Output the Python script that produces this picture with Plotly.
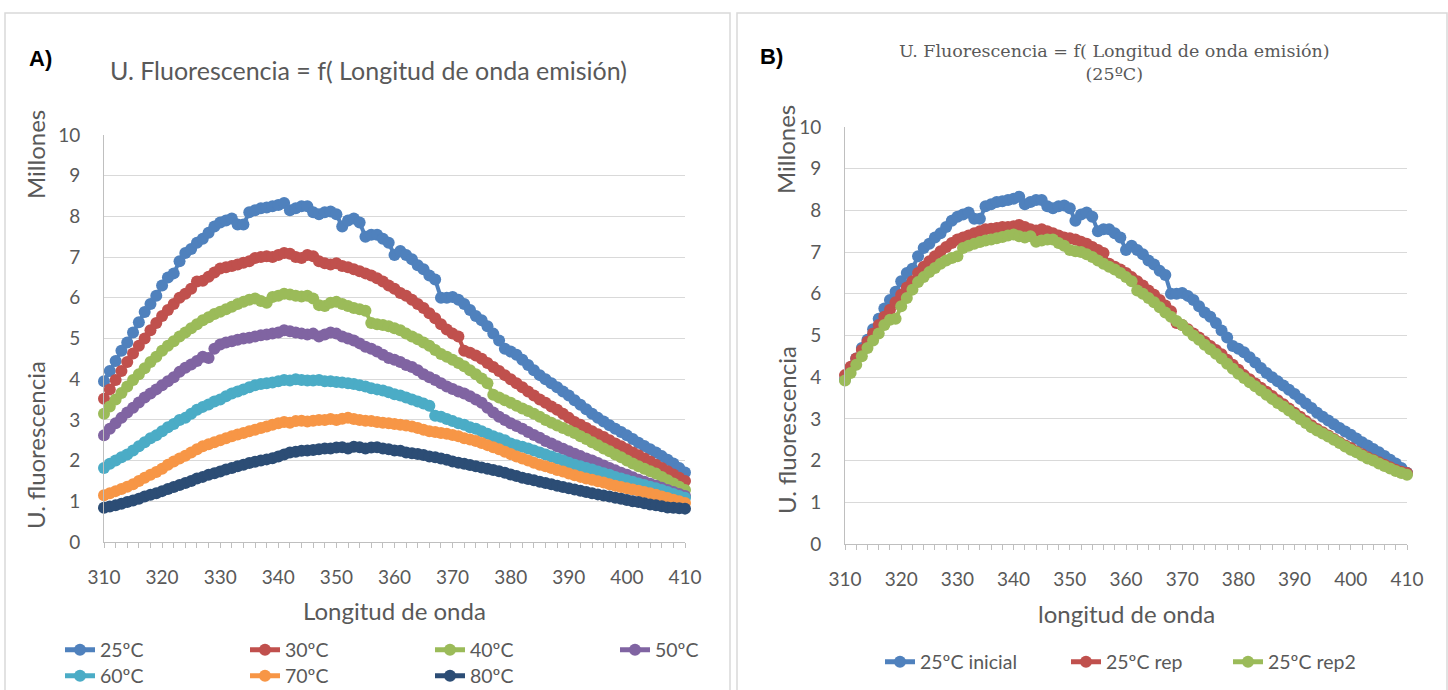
import plotly.graph_objects as go

W, H = 1448, 690

# ---------------- data ----------------
wavelength = list(range(310, 411))

a_25 = [3.95, 4.2, 4.45, 4.7, 4.9, 5.15, 5.4, 5.65, 5.85, 6.05, 6.3,
        6.5, 6.6, 6.9, 7.1, 7.2, 7.35, 7.45, 7.6, 7.75, 7.85,
        7.9, 7.95, 7.8, 7.8, 8.1, 8.15, 8.2, 8.22, 8.25, 8.28,
        8.33, 8.15, 8.2, 8.25, 8.25, 8.1, 8.05, 8.1, 8.12, 8.05,
        7.75, 7.9, 7.95, 7.85, 7.5, 7.55, 7.55, 7.45, 7.35, 7.05,
        7.15, 7.05, 6.95, 6.8, 6.7, 6.55, 6.45, 6.0, 6.0, 6.02,
        5.95, 5.85, 5.7, 5.55, 5.45, 5.3, 5.12, 4.95, 4.75, 4.68,
        4.6, 4.48, 4.35, 4.22, 4.1, 4.0, 3.9, 3.8, 3.7, 3.6,
        3.48, 3.37, 3.26, 3.15, 3.05, 2.96, 2.87, 2.78, 2.7, 2.62,
        2.53, 2.44, 2.36, 2.28, 2.2, 2.11, 2.02, 1.93, 1.82, 1.71]

a_30 = [3.52, 3.75, 3.98, 4.2, 4.42, 4.63, 4.82, 5.0, 5.2, 5.38, 5.55,
        5.7, 5.85, 6.0, 6.1, 6.22, 6.4, 6.42, 6.52, 6.62, 6.72,
        6.75, 6.78, 6.82, 6.86, 6.9, 6.98, 7.0, 7.02, 7.0, 7.05,
        7.1, 7.08, 7.0, 6.98, 7.05, 7.02, 6.9, 6.85, 6.82, 6.85,
        6.78, 6.75, 6.7, 6.65, 6.6, 6.55, 6.48, 6.4, 6.3, 6.22,
        6.12, 6.05, 5.95, 5.85, 5.75, 5.62, 5.5, 5.35, 5.22, 5.12,
        5.05, 4.7, 4.65, 4.58, 4.5, 4.4, 4.3, 4.2, 4.1, 4.0,
        3.9, 3.8, 3.7, 3.6, 3.5, 3.42, 3.33, 3.25, 3.15, 3.05,
        2.95, 2.88, 2.8, 2.72, 2.65, 2.58, 2.5, 2.42, 2.35, 2.28,
        2.2, 2.13, 2.05, 1.98, 1.9, 1.82, 1.74, 1.66, 1.58, 1.5]

a_40 = [3.15, 3.33, 3.5, 3.66, 3.82, 3.98, 4.12, 4.27, 4.42, 4.55, 4.7,
        4.82, 4.93, 5.05, 5.15, 5.25, 5.35, 5.45, 5.52, 5.6, 5.66,
        5.72, 5.78, 5.85, 5.9, 5.95, 5.98, 5.92, 5.88, 6.02, 6.05,
        6.1, 6.08, 6.05, 6.03, 6.05, 5.98, 5.82, 5.8, 5.88, 5.9,
        5.85, 5.8, 5.75, 5.72, 5.68, 5.38, 5.35, 5.33, 5.3, 5.25,
        5.2, 5.12, 5.05, 4.98, 4.9, 4.82, 4.72, 4.62, 4.55, 4.48,
        4.4, 4.32, 4.22, 4.12, 4.02, 3.9, 3.62, 3.55, 3.48, 3.42,
        3.35, 3.28, 3.22, 3.15, 3.08, 3.0, 2.93, 2.86, 2.8, 2.74,
        2.68, 2.6, 2.53, 2.45, 2.38, 2.3, 2.23, 2.15, 2.08, 2.0,
        1.93, 1.86, 1.8, 1.74, 1.68, 1.6, 1.52, 1.44, 1.36, 1.28]

a_50 = [2.62, 2.78, 2.92, 3.05, 3.18, 3.3, 3.43, 3.55, 3.65, 3.75, 3.85,
        3.95, 4.05, 4.18, 4.28, 4.36, 4.45, 4.55, 4.52, 4.75, 4.85,
        4.9, 4.93, 4.97, 5.0, 5.02, 5.05, 5.08, 5.1, 5.12, 5.15,
        5.2, 5.18, 5.15, 5.12, 5.1, 5.12, 5.05, 5.1, 5.15, 5.12,
        5.05, 5.0, 4.95, 4.88, 4.8, 4.75, 4.68, 4.6, 4.52, 4.48,
        4.42, 4.35, 4.3, 4.22, 4.12, 4.05, 3.98, 3.9, 3.82, 3.76,
        3.7, 3.65, 3.58, 3.5, 3.42, 3.3, 3.18, 3.08, 3.0, 2.92,
        2.85, 2.78, 2.7, 2.63, 2.56, 2.48, 2.42, 2.35, 2.29, 2.23,
        2.17, 2.11, 2.05, 2.0, 1.94, 1.88, 1.82, 1.76, 1.7, 1.65,
        1.59, 1.53, 1.48, 1.43, 1.38, 1.33, 1.28, 1.23, 1.18, 1.13]

a_60 = [1.82, 1.92, 2.0, 2.08, 2.15, 2.25, 2.35, 2.45, 2.55, 2.62, 2.72,
        2.82, 2.9, 3.0, 3.05, 3.15, 3.25, 3.32, 3.38, 3.45, 3.5,
        3.58, 3.65, 3.7, 3.75, 3.8, 3.85, 3.88, 3.9, 3.92, 3.95,
        3.98, 3.97, 4.0, 3.98, 3.97, 3.97, 3.98, 3.95, 3.95, 3.93,
        3.92, 3.9, 3.88, 3.85, 3.82, 3.78, 3.75, 3.72, 3.68, 3.63,
        3.6, 3.55, 3.5, 3.45, 3.4, 3.35, 3.1, 3.08, 3.02, 2.97,
        2.92, 2.88, 2.82, 2.78, 2.72, 2.66, 2.6, 2.55, 2.5, 2.42,
        2.38, 2.34, 2.3, 2.25, 2.2, 2.15, 2.1, 2.05, 2.0, 1.95,
        1.9, 1.86, 1.82, 1.78, 1.73, 1.69, 1.65, 1.6, 1.56, 1.52,
        1.48, 1.44, 1.4, 1.36, 1.32, 1.28, 1.23, 1.18, 1.13, 1.09]

a_70 = [1.15, 1.2, 1.25, 1.3, 1.36, 1.42, 1.5, 1.58, 1.65, 1.72, 1.8,
        1.9, 1.98, 2.05, 2.12, 2.2, 2.28, 2.35, 2.4, 2.45, 2.5,
        2.55, 2.6, 2.64, 2.68, 2.72, 2.76, 2.8, 2.84, 2.88, 2.92,
        2.95, 2.93, 2.97, 2.98, 2.96, 2.98, 3.0, 3.0, 3.02, 3.0,
        3.03, 3.05, 3.02, 3.0, 2.98, 2.97, 2.95, 2.93, 2.92, 2.9,
        2.88, 2.86, 2.84, 2.8, 2.76, 2.72, 2.7, 2.68, 2.66, 2.63,
        2.6, 2.55, 2.52, 2.48, 2.43, 2.38, 2.33, 2.28, 2.22, 2.16,
        2.1, 2.05, 2.0, 1.95, 1.9, 1.86, 1.82, 1.77, 1.73, 1.68,
        1.64, 1.6, 1.56, 1.53, 1.49, 1.46, 1.42, 1.38, 1.35, 1.32,
        1.29, 1.26, 1.23, 1.2, 1.16, 1.12, 1.08, 1.04, 1.0, 0.96]

a_80 = [0.84, 0.87, 0.9, 0.94, 0.98, 1.02, 1.06, 1.12, 1.16, 1.2, 1.25,
        1.3, 1.35, 1.4, 1.45, 1.5, 1.56, 1.6, 1.65, 1.69, 1.73,
        1.78, 1.82, 1.86, 1.9, 1.94, 1.97, 2.0, 2.03, 2.06, 2.1,
        2.15, 2.2, 2.22, 2.24, 2.25, 2.26, 2.28, 2.3, 2.3, 2.32,
        2.33, 2.3, 2.34, 2.33, 2.3, 2.32, 2.33, 2.3, 2.28, 2.25,
        2.24, 2.2, 2.18, 2.16, 2.14, 2.1, 2.08, 2.05, 2.02, 1.98,
        1.95, 1.92, 1.89, 1.86, 1.83, 1.8, 1.77, 1.74, 1.7, 1.66,
        1.62, 1.58, 1.55, 1.52, 1.48, 1.45, 1.42, 1.38, 1.35, 1.32,
        1.29, 1.26, 1.23, 1.2, 1.17, 1.14, 1.12, 1.09, 1.06, 1.03,
        1.0, 0.98, 0.95, 0.92, 0.9, 0.88, 0.85, 0.84, 0.83, 0.82]

b_rep = [4.05, 4.25, 4.45, 4.65, 4.85, 5.05, 5.25, 5.45, 5.62, 5.8, 5.98,
         6.15, 6.3, 6.5, 6.65, 6.78, 6.9, 7.02, 7.12, 7.22, 7.3,
         7.35, 7.4, 7.45, 7.5, 7.55, 7.56, 7.58, 7.6, 7.6, 7.62,
         7.65, 7.6, 7.55, 7.52, 7.55, 7.5, 7.45, 7.4, 7.35, 7.33,
         7.3, 7.25, 7.2, 7.12, 7.05, 6.98, 6.72, 6.65, 6.58, 6.5,
         6.4, 6.3, 6.2, 6.08, 5.98, 5.85, 5.72, 5.58, 5.3, 5.25,
         5.15, 5.05, 4.95, 4.85, 4.75, 4.65, 4.55, 4.42, 4.3, 4.18,
         4.05, 3.95, 3.85, 3.75, 3.65, 3.55, 3.45, 3.35, 3.25, 3.15,
         3.05, 2.95, 2.85, 2.76, 2.68, 2.6, 2.52, 2.44, 2.36, 2.3,
         2.22, 2.15, 2.08, 2.02, 1.96, 1.9, 1.84, 1.78, 1.73, 1.7]

b_rep2 = [3.92, 4.1, 4.3, 4.5, 4.7, 4.88, 5.05, 5.25, 5.38, 5.4, 5.7,
          5.9, 6.1, 6.28, 6.4, 6.52, 6.62, 6.72, 6.8, 6.86, 6.9,
          7.1, 7.15, 7.2, 7.24, 7.28, 7.3, 7.33, 7.36, 7.4, 7.42,
          7.38, 7.35, 7.38, 7.25, 7.28, 7.3, 7.3, 7.22, 7.15, 7.05,
          7.02, 7.0, 6.95, 6.88, 6.8, 6.72, 6.65, 6.58, 6.5, 6.4,
          6.3, 6.08, 6.0, 5.9, 5.8, 5.68, 5.55, 5.45, 5.35, 5.25,
          5.12, 5.0, 4.9, 4.78, 4.67, 4.56, 4.45, 4.32, 4.2, 4.08,
          3.98, 3.88, 3.78, 3.68, 3.58, 3.48, 3.38, 3.3, 3.2, 3.1,
          3.0, 2.9, 2.8, 2.72, 2.65, 2.58, 2.5, 2.42, 2.34, 2.26,
          2.2, 2.12, 2.05, 2.0, 1.93, 1.87, 1.81, 1.75, 1.7, 1.66]

a_names = ["25ºC", "30ºC", "40ºC", "50ºC", "60ºC", "70ºC", "80ºC"]
a_series = [a_25, a_30, a_40, a_50, a_60, a_70, a_80]
a_colors = ["#4F81BD", "#C0504D", "#9BBB59", "#8064A2", "#4BACC6", "#F79646", "#2C4D75"]

b_names = ["25ºC inicial", "25ºC rep", "25ºC rep2"]
b_series = [a_25, b_rep, b_rep2]
b_colors = ["#4F81BD", "#C0504D", "#9BBB59"]

x_ticks = [310, 320, 330, 340, 350, 360, 370, 380, 390, 400, 410]
y_ticks = list(range(0, 11))

SANS = "Lato"
SERIF = "DejaVu Serif"
GREY = "#595959"


def py(p):
    return 1 - p / H


fig = go.Figure()

a_legend_ids = ["legend", "legend", "legend", "legend", "legend3", "legend3", "legend3"]
for name, vals, col, lg in zip(a_names, a_series, a_colors, a_legend_ids):
    fig.add_trace(go.Scatter(
        x=wavelength, y=vals, name=name, mode="lines+markers",
        line=dict(color=col, width=4), marker=dict(color=col, size=12),
        cliponaxis=False, xaxis="x", yaxis="y", legend=lg))

b_legend_ids = ["legend2", "legend4", "legend5"]
for name, vals, col, lg in zip(b_names, b_series, b_colors, b_legend_ids):
    fig.add_trace(go.Scatter(
        x=wavelength, y=vals, name=name, mode="lines+markers",
        line=dict(color=col, width=4), marker=dict(color=col, size=12),
        cliponaxis=False, xaxis="x2", yaxis="y2", legend=lg))


def xax(domain, anchor):
    return dict(domain=domain, anchor=anchor, range=[310, 410], tickvals=x_ticks,
                showgrid=False, zeroline=False, showline=True, linecolor="#bfbfbf",
                linewidth=1, ticks="outside", ticklen=5, tickcolor="#bfbfbf",
                minor=dict(dtick=2, tick0=310, ticks="outside", ticklen=5, tickcolor="#bfbfbf"),
                tickfont=dict(family=SANS, size=19, color=GREY), ticklabelstandoff=13)


def yax(domain, anchor):
    return dict(domain=domain, anchor=anchor, range=[0, 10], tickvals=y_ticks,
                showgrid=True, gridcolor="#d9d9d9", gridwidth=1, zeroline=False,
                showline=True, linecolor="#bfbfbf", linewidth=1, ticks="",
                tickfont=dict(family=SANS, size=19, color=GREY), ticklabelstandoff=19)


def legend_box(x, y, entrywidth=None):
    d = dict(orientation="h", x=x / W, y=py(y), xanchor="left", yanchor="middle",
             font=dict(family=SANS, size=19.5, color=GREY), bgcolor="rgba(0,0,0,0)",
             itemsizing="constant", traceorder="normal")
    if entrywidth:
        d.update(entrywidth=entrywidth, entrywidthmode="pixels")
    return d


fig.update_layout(
    width=W, height=H, margin=dict(l=0, r=0, t=0, b=0, autoexpand=False),
    paper_bgcolor="white", plot_bgcolor="white", showlegend=True,
    xaxis=xax([104 / W, 685 / W], "y"),
    yaxis=yax([py(542), py(135)], "x"),
    xaxis2=xax([845 / W, 1407 / W], "y2"),
    yaxis2=yax([py(544), py(127)], "x2"),
    legend=legend_box(60, 650, 140),
    legend3=legend_box(60, 676, 140),
    legend2=legend_box(880, 662),
    legend4=legend_box(1066, 662),
    legend5=legend_box(1228, 662),
)

shapes = [
    dict(type="rect", xref="paper", yref="paper", x0=5 / W, x1=730 / W, y0=-0.05, y1=py(13),
         line=dict(color="#d9d9d9", width=1.5), layer="below"),
    dict(type="rect", xref="paper", yref="paper", x0=737 / W, x1=1447 / W, y0=-0.05, y1=py(13),
         line=dict(color="#d9d9d9", width=1.5), layer="below"),
]
fig.update_layout(shapes=shapes)


def ann(text, x, y, size, color=GREY, family=SANS, angle=0):
    return dict(text=text, x=x / W, y=py(y), xref="paper", yref="paper", showarrow=False,
                xanchor="center", yanchor="middle", textangle=angle,
                font=dict(family=family, size=size, color=color))


annotations = [
    ann("<b>A)</b>", 40, 58, 22, color="black", family="Liberation Sans"),
    ann("<b>B)</b>", 771, 57, 22, color="black", family="Liberation Sans"),
    ann("U. Fluorescencia = f( Longitud de onda emisión)", 368, 70, 25),
    ann("U. Fluorescencia = f( Longitud de onda emisión)<br>(25ºC)", 1114, 62, 17.5, family=SERIF),
    ann("Millones", 35, 155, 24, angle=-90),
    ann("U. fluorescencia", 35, 445, 24, angle=-90),
    ann("Millones", 786, 150, 24, angle=-90),
    ann("U. fluorescencia", 786, 430, 24, angle=-90),
    ann("Longitud de onda", 394, 610, 24),
    ann("longitud de onda", 1126, 613, 24),
]
fig.update_layout(annotations=annotations)

fig.write_html("out.html", config={"displayModeBar": False},
               post_script="document.body.style.margin='0';document.body.style.overflow='hidden';")
